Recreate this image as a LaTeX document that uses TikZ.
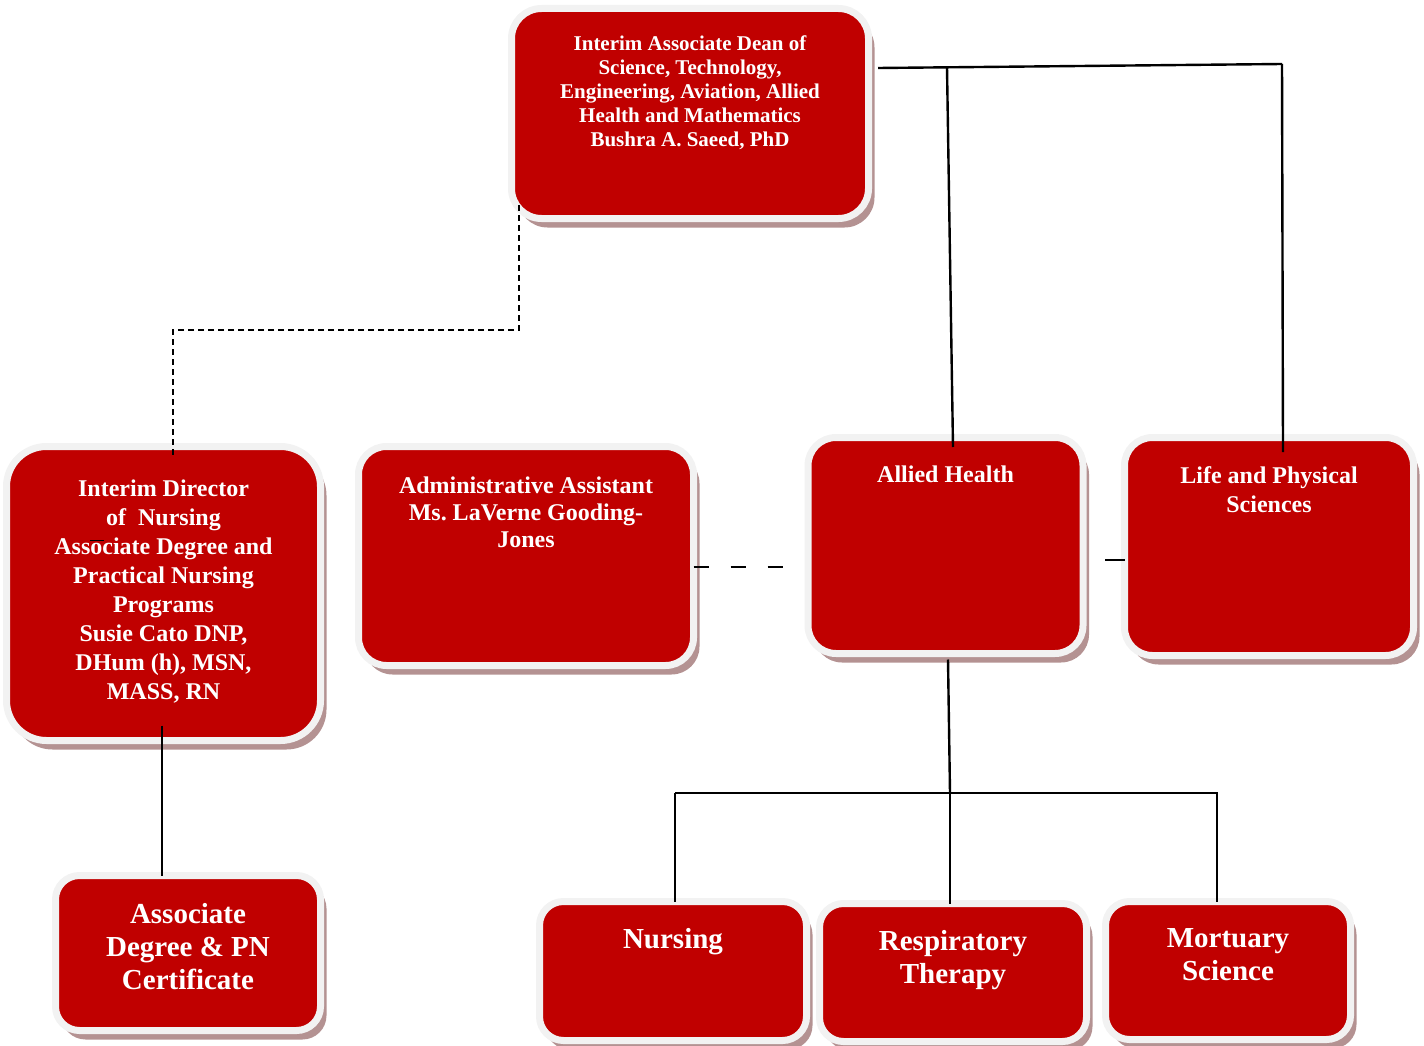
\documentclass[tikz,border=0pt]{standalone}
\usepackage{fontspec}
\setmainfont{Liberation Serif}
\usetikzlibrary{positioning,shadows}

\definecolor{unitred}{RGB}{192,0,0}
\definecolor{rimgray}{RGB}{242,242,242}
\definecolor{shadowrose}{RGB}{180,146,146}

\tikzset{
  unit/.style={draw=rimgray, line width=7pt, fill=unitred, rounded corners=28pt, outer sep=0pt,
    drop shadow={shadow xshift=6pt, shadow yshift=-9pt, fill=shadowrose, opacity=1}},
  unittext/.style={text=white, align=center, inner sep=0pt},
  deanfont/.style={unittext, font=\fontsize{21}{24}\selectfont\bfseries},
  officefont/.style={unittext, font=\fontsize{24}{29}\selectfont\bfseries},
  progfont/.style={unittext, font=\fontsize{29}{33}\selectfont\bfseries},
  link/.style={line width=2.4pt},
  dashlink/.style={line width=1.8pt, dash pattern=on 6pt off 4pt},
  gaplink/.style={line width=1.8pt, dash pattern=on 15pt off 22pt}
}

\begin{document}
\begin{tikzpicture}[x=1pt,y=-1pt]
\useasboundingbox (0,0) rectangle (1424,1046);

% boxes
\node[unit, rounded corners=30pt, minimum width=357pt, minimum height=210pt] (dean) at (690,113.5) {};
\node[unit, rounded corners=40pt, minimum width=314pt, minimum height=294pt] (director) at (163.5,593.5) {};
\node[unit, minimum width=335pt, minimum height=219pt] (admin) at (526,556) {};
\node[unit, minimum width=275pt, minimum height=216pt] (allied) at (945.5,545.5) {};
\node[unit, minimum width=289pt, minimum height=218pt] (life) at (1269,546.5) {};
\node[unit, rounded corners=24pt, minimum width=265pt, minimum height=155pt] (assoc) at (188,953) {};
\node[unit, rounded corners=24pt, minimum width=267pt, minimum height=139pt] (nursing) at (673,971) {};
\node[unit, rounded corners=24pt, minimum width=267pt, minimum height=138pt] (resp) at (953,972.5) {};
\node[unit, rounded corners=24pt, minimum width=245pt, minimum height=138pt] (mortuary) at (1228,970.5) {};

% texts
\node[deanfont, below=27.5pt of dean.north] (deanText) {Interim Associate Dean of\\Science, Technology,\\Engineering, Aviation, Allied\\Health and Mathematics\\Bushra A. Saeed, PhD};
\node[officefont, below=33.5pt of director.north] (directorText) {Interim Director\\of~ Nursing\\Associate Degree and\\Practical Nursing\\Programs\\Susie Cato DNP,\\DHum (h), MSN,\\MASS, RN};
\node[officefont, font=\fontsize{24}{27}\selectfont\bfseries, below=30.5pt of admin.north] (adminText) {Administrative Assistant\\Ms.\ LaVerne Gooding-\\Jones};
\node[officefont, below=28.5pt of allied.north] (alliedText) {Allied Health};
\node[officefont, below=28.5pt of life.north] (lifeText) {Life and Physical\\Sciences};
\node[progfont, below=27.5pt of assoc.north] (assocText) {Associate\\Degree \& PN\\Certificate};
\node[progfont, below=26.5pt of nursing.north] (nursingText) {Nursing};
\node[progfont, below=26.5pt of resp.north] (respText) {Respiratory\\Therapy};
\node[progfont, below=26.5pt of mortuary.north] (mortuaryText) {Mortuary\\Science};

% connectors
\coordinate (hubL) at (878,68);
\coordinate (hubR) at (1282,64);
\coordinate (hubA) at (947,67.4);
\coordinate (alliedIn) at (953,447);
\coordinate (lifeIn) at (1283,452);
\draw[link] (hubL) -- (hubR);
\draw[link] (hubA) -- (alliedIn);
\draw[link] (hubR) -- (lifeIn);

\coordinate (dashTop) at (519,205);
\coordinate (dashBend) at (173,330);
\draw[dashlink] (dashTop) |- (dashBend) -- ([yshift=-9pt]dashBend |- director.north);

\coordinate (assistLink) at (787,567);
\draw[gaplink] (admin.east |- assistLink) -- (assistLink);
\coordinate (lifeDash) at (1105,560);
\draw[link] (lifeDash) -- (life.west |- lifeDash);
\draw[line width=1pt] (90,540) -- (104,540);

\draw[link] ([xshift=-1.5pt, yshift=15pt]director.south) -- ([xshift=-1.5pt]director.south |- assoc.north);

\coordinate (branch) at (950,793);
\coordinate (busL) at (675,793);
\coordinate (busR) at (1218,793);
\draw[link] ([xshift=2.5pt, yshift=-6pt]allied.south) -- (branch);
\draw[link] (busL) -- (busR);
\draw[link] (busL) -- (busL |- nursing.north);
\draw[link] (branch) -- (branch |- resp.north);
\draw[link] ([xshift=-1pt]busR) -- ([xshift=-1pt]busR |- mortuary.north);

\end{tikzpicture}
\end{document}
